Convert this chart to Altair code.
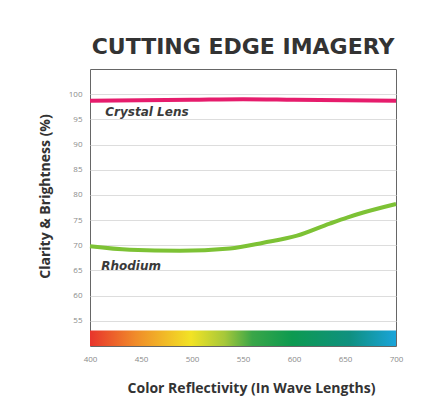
import altair as alt
import pandas as pd

# Data
wave = [400, 450, 500, 550, 600, 650, 700]
crystal = [98.7, 98.8, 98.9, 99.0, 98.9, 98.8, 98.7]

rh_wave = [400, 439, 488, 537, 570, 603, 635, 652, 668, 700]
rhodium = [69.8, 69.1, 68.9, 69.35, 70.5, 71.9, 74.3, 75.5, 76.5, 78.2]

x_ticks = [400, 450, 500, 550, 600, 650, 700]
y_ticks = [55, 60, 65, 70, 75, 80, 85, 90, 95, 100]

band_start = [400]
band_end = [700]
band_low = [50]
band_high = [53.1]

label_text = ["Crystal Lens", "Rhodium"]
label_x = [415, 411]
label_y = [96.4, 65.9]

df_c = pd.DataFrame({"wave": wave, "value": crystal})
df_r = pd.DataFrame({"wave": rh_wave, "value": rhodium})
df_band = pd.DataFrame({"x": band_start, "x2": band_end, "y": band_low, "y2": band_high})
df_lab = pd.DataFrame({"text": label_text, "wave": label_x, "value": label_y})

xs = alt.Scale(domain=[400, 700], nice=False)
ys = alt.Scale(domain=[50, 105], nice=False)

x_axis = alt.Axis(values=x_ticks, grid=False, ticks=False, domain=False,
                  labelColor="#8a8a8a", labelFontSize=8, labelPadding=9,
                  labelFont="Open Sans", labelFlush=False, labelOverlap=False,
                  title="Color Reflectivity (In Wave Lengths)",
                  titleFont="Open Sans", titleFontSize=14, titleFontWeight="bold",
                  titleColor="#333333", titleX=161, titleY=42, titleBaseline="middle")
y_axis = alt.Axis(values=y_ticks, grid=True, gridColor="#dddddd", gridWidth=1,
                  ticks=False, domain=False,
                  labelColor="#8a8a8a", labelFontSize=8, labelPadding=8,
                  labelFont="Open Sans", labelOverlap=False, labelFlush=False,
                  title="Clarity & Brightness (%)",
                  titleFont="Open Sans", titleFontSize=14, titleFontWeight="bold",
                  titleColor="#333333", titleX=-45, titleY=127, titleBaseline="middle")

X = lambda f: alt.X(f, scale=xs, axis=x_axis)
Y = lambda f: alt.Y(f, scale=ys, axis=y_axis)

band = alt.Chart(df_band).mark_rect(
    fill=alt.Gradient(
        gradient="linear",
        stops=[
            alt.GradientStop(color="#e8342c", offset=0),
            alt.GradientStop(color="#f08c2a", offset=0.15),
            alt.GradientStop(color="#f2e325", offset=0.33),
            alt.GradientStop(color="#a6c83a", offset=0.44),
            alt.GradientStop(color="#3aa648", offset=0.53),
            alt.GradientStop(color="#0d9a50", offset=0.66),
            alt.GradientStop(color="#0f9080", offset=0.85),
            alt.GradientStop(color="#1aa4da", offset=1),
        ],
        x1=0, x2=1, y1=0, y2=0,
    )
).encode(
    x=X("x:Q"),
    x2="x2:Q",
    y=Y("y:Q"),
    y2="y2:Q",
)

line_c = alt.Chart(df_c).mark_line(color="#e61c6c", strokeWidth=4, interpolate="monotone").encode(
    x=X("wave:Q"),
    y=Y("value:Q"),
)
line_r = alt.Chart(df_r).mark_line(color="#7dc235", strokeWidth=4, interpolate="monotone").encode(
    x=X("wave:Q"),
    y=Y("value:Q"),
)
labels = alt.Chart(df_lab).mark_text(
    align="left", baseline="middle", font="DejaVu Sans", fontSize=12,
    fontWeight="bold", fontStyle="italic", color="#3a3a3a"
).encode(
    x=X("wave:Q"),
    y=Y("value:Q"),
    text="text:N",
)

chart = alt.layer(band, line_c, line_r, labels).properties(
    width=306, height=277,
    title=alt.TitleParams("CUTTING EDGE IMAGERY", font="DejaVu Sans", fontSize=22,
                          fontWeight="bold", color="#333333", offset=10, anchor="middle"),
    autosize=alt.AutoSizeParams(type="none"),
    padding={"left": 82, "top": 61, "right": 20, "bottom": 50},
    background="white",
).configure_view(stroke="#666666", strokeWidth=1)

chart.save("out.html", embed_options={"renderer": "svg", "actions": False})
